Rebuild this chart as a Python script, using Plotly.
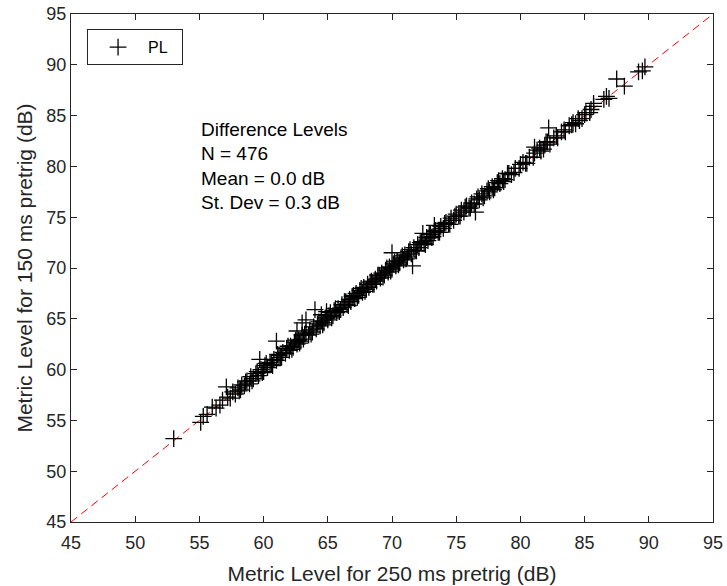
import plotly.graph_objects as go

# Metric level (dB) for 250 ms pretrig (x) and 150 ms pretrig (y)
x_250 = [
    53.0, 55.1, 55.3, 55.6, 56.0, 56.3, 56.6, 56.8, 57.1, 57.2, 57.4, 57.6, 57.8,
    58.0, 58.1, 58.3, 58.5, 58.7, 58.9, 59.0, 59.2, 59.4, 59.6, 59.7, 59.8,
    60.0, 60.1, 60.3, 60.5, 60.6, 60.8, 61.0, 61.0, 61.2, 61.3, 61.5, 61.7, 61.8,
    62.0, 62.1, 62.3, 62.4, 62.6, 62.7, 62.9, 63.0, 63.1, 63.3, 63.3, 63.5, 63.6,
    63.8, 63.9, 64.0, 64.1, 64.2, 64.4, 64.5, 64.7, 64.8, 65.0, 65.1, 65.2, 65.4,
    65.5, 65.7, 65.8, 66.0, 66.1, 66.2, 66.4, 66.5, 66.7, 66.8, 67.0, 67.1, 67.2,
    67.4, 67.5, 67.7, 67.8, 68.0, 68.1, 68.2, 68.4, 68.5, 68.7, 68.8, 69.0, 69.1,
    69.2, 69.4, 69.5, 69.7, 69.8, 70.0, 70.0, 70.1, 70.3, 70.4, 70.6, 70.7, 70.9,
    71.0, 71.2, 71.3, 71.5, 71.6, 71.7, 71.8, 72.0, 72.1, 72.3, 72.4, 72.5, 72.7,
    72.8, 73.0, 73.2, 73.4, 73.6, 73.8, 74.0, 74.2, 74.4, 74.6, 74.8, 75.0, 75.2,
    75.4, 75.6, 75.8, 76.0, 76.2, 76.4, 76.5, 76.6, 76.8, 77.0, 77.2, 77.4, 77.6,
    77.8, 78.0, 78.2, 78.4, 78.6, 78.8, 79.0, 79.3, 79.6, 79.9, 80.2, 80.4, 80.7,
    81.0, 81.3, 81.6, 81.9, 82.0, 82.2, 82.3, 82.6, 82.9, 83.2, 83.5, 83.8, 84.0,
    84.3, 84.5, 84.8, 85.1, 85.4, 85.7, 86.5, 86.7, 86.9, 87.5, 88.1, 89.2, 89.5,
    89.7,
    58.2, 58.6, 59.1, 59.5, 59.9, 60.2, 60.7, 61.1, 61.4, 61.9, 62.2, 62.5, 62.8,
    63.2, 63.7, 64.3, 64.6, 64.9, 65.3, 65.6, 65.9, 66.3, 66.6, 66.9, 67.3, 67.6,
    67.9, 68.3, 68.6, 68.9, 69.3, 69.6, 69.9, 70.2, 70.5, 70.8, 71.1, 71.4, 71.9,
    72.2, 72.6, 72.9, 73.1, 73.3, 73.7, 74.1, 74.5, 74.9, 75.3, 75.7, 76.1, 76.7,
    77.1, 77.5, 77.9, 78.3, 78.7, 79.1, 79.5, 80.0, 80.5, 81.1, 81.5, 81.8, 82.8,
    83.4, 84.1, 84.6, 85.0, 85.5,
    62.6, 63.0, 64.5, 64.9, 73.3, 81.1, 82.1, 85.7,
]
y_150 = [
    53.2, 54.8, 55.4, 55.6, 56.3, 56.2, 56.5, 57.0, 58.3, 57.3, 57.2, 57.8, 57.6,
    58.2, 57.9, 58.5, 58.4, 58.9, 58.6, 59.3, 59.1, 59.6, 59.4, 61.0, 60.0,
    59.8, 60.4, 60.2, 60.7, 60.5, 61.0, 62.8, 60.9, 61.4, 61.2, 61.7, 61.6, 62.1,
    61.9, 62.3, 62.2, 62.7, 62.5, 62.9, 62.8, 63.4, 63.0, 64.9, 63.6, 63.4, 63.9,
    63.7, 64.2, 65.9, 64.0, 64.5, 64.3, 64.8, 64.6, 65.1, 64.9, 65.3, 65.6, 65.3,
    65.8, 65.6, 66.0, 65.9, 66.4, 66.1, 66.7, 66.4, 66.9, 66.7, 67.3, 67.0, 67.5,
    67.3, 67.8, 67.6, 68.1, 67.9, 68.4, 68.1, 68.7, 68.4, 68.9, 68.7, 69.3, 69.0,
    69.5, 69.3, 69.8, 69.6, 70.1, 71.5, 69.9, 70.4, 70.2, 70.7, 70.5, 71.0, 70.8,
    71.3, 71.1, 71.6, 71.4, 70.2, 72.0, 71.7, 72.3, 72.0, 72.6, 73.4, 72.4, 73.0,
    72.7, 73.3, 73.1, 73.7, 73.5, 74.1, 73.9, 74.5, 74.3, 74.9, 74.7, 75.3, 75.1,
    75.7, 75.5, 76.1, 75.9, 76.4, 76.3, 75.5, 76.8, 76.7, 77.3, 77.1, 77.6, 77.5,
    78.0, 77.9, 78.4, 78.3, 78.8, 78.7, 79.3, 79.2, 79.8, 79.8, 80.4, 80.3, 80.9,
    80.9, 81.6, 81.5, 82.1, 82.4, 83.8, 82.2, 82.8, 82.8, 83.4, 83.4, 84.0, 84.1,
    84.2, 84.7, 84.7, 85.3, 85.3, 85.9, 86.6, 86.9, 86.7, 88.6, 87.9, 89.3, 89.4,
    89.8,
    58.0, 58.8, 58.9, 59.8, 59.7, 60.6, 60.4, 61.5, 61.2, 62.3, 62.0, 62.9, 62.6,
    63.5, 63.5, 64.7, 64.4, 65.3, 65.1, 66.0, 65.7, 66.7, 66.3, 67.2, 67.1, 68.0,
    67.7, 68.6, 68.4, 69.3, 69.1, 70.0, 69.7, 70.6, 70.3, 71.2, 70.9, 71.8, 71.7,
    72.5, 72.3, 73.3, 73.0, 73.6, 73.5, 74.4, 74.3, 75.1, 75.1, 76.0, 75.9, 77.0,
    76.9, 77.8, 77.7, 78.6, 78.5, 79.3, 79.4, 80.2, 80.3, 81.3, 81.8, 81.7, 83.0,
    83.6, 84.3, 84.5, 85.1, 85.6,
    63.8, 64.6, 65.4, 65.7, 74.2, 81.9, 82.4, 86.2,
]
ref_line = [45, 95]
tick_vals = [45, 50, 55, 60, 65, 70, 75, 80, 85, 90, 95]
stats_lines = ["Difference Levels", "N = 476", "Mean = 0.0 dB", "St. Dev = 0.3 dB"]
stats_y = [83.6, 81.3, 78.85, 76.4]

FONT = "Liberation Sans, Arial, sans-serif"
AX = "#262626"

fig = go.Figure()
fig.add_trace(go.Scatter(
    x=ref_line, y=ref_line, mode="lines", showlegend=False, hoverinfo="skip",
    line=dict(color="#ff0000", width=1, dash="8px,5px"),
))
fig.add_trace(go.Scatter(
    x=x_250, y=y_150, mode="markers", name="PL\u00a0\u00a0",
    marker=dict(symbol="cross-thin", size=12, color="black",
                line=dict(color="black", width=1.3)),
))

for txt, yy in zip(stats_lines, stats_y):
    fig.add_annotation(x=55.0, y=yy, xref="x", yref="y", text=txt,
                       showarrow=False, xanchor="left", yanchor="middle",
                       font=dict(family=FONT, size=19, color="black"))

axis_common = dict(
    range=[45, 95], tickvals=tick_vals, showgrid=False, zeroline=False,
    showline=True, linecolor=AX, linewidth=1, mirror="ticks",
    ticks="inside", ticklen=6, tickcolor=AX, tickwidth=1, automargin=False,
    tickfont=dict(family=FONT, size=18, color=AX),
)
fig.update_xaxes(**axis_common, ticklabelstandoff=4,
                 title=dict(text="Metric Level for 250 ms pretrig (dB)",
                            font=dict(family=FONT, size=21, color=AX), standoff=14))
fig.update_yaxes(**axis_common,
                 title=dict(text="Metric Level for 150 ms pretrig (dB)",
                            font=dict(family=FONT, size=21, color=AX), standoff=8))

fig.update_layout(
    width=727, height=586,
    margin=dict(l=71, r=14, t=14, b=64),
    plot_bgcolor="white", paper_bgcolor="white",
    legend=dict(x=0.025, y=0.97, xanchor="left", yanchor="top",
                bgcolor="white", bordercolor=AX, borderwidth=1,
                font=dict(family=FONT, size=16, color="black"),
                itemwidth=50, tracegroupgap=0),
)

fig.write_html("out.html")
